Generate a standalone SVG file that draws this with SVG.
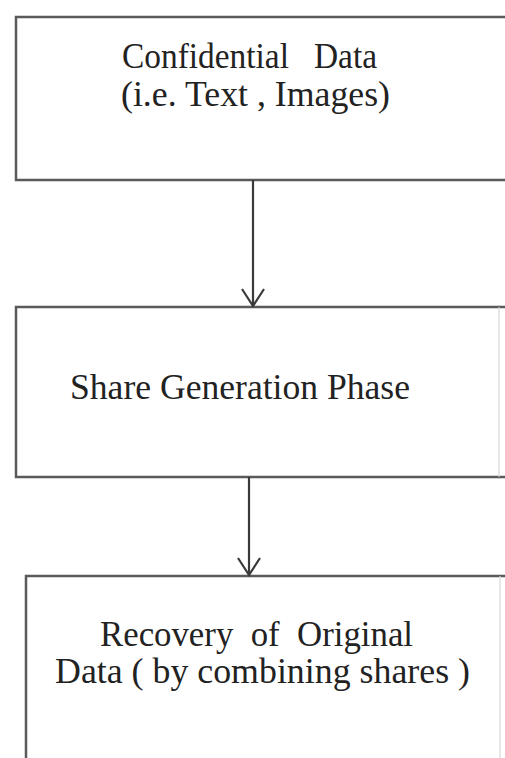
<svg xmlns="http://www.w3.org/2000/svg" width="505" height="758" viewBox="0 0 505 758">
<style>
.box{fill:#ffffff;stroke:#5a5a5a;stroke-width:2.5}
.faint{stroke:#d8d8d8;stroke-width:1.2;fill:none}
.lbl{font-family:"Liberation Serif","Times New Roman",serif;font-size:36px;fill:#222222}
.conn{stroke:#3a3a3a;stroke-width:2.2;fill:none}
</style>
<defs>
<marker id="arr" markerUnits="userSpaceOnUse" markerWidth="30" markerHeight="30" viewBox="-20 -15 24 30" refX="0" refY="0" orient="auto">
<path d="M-17,-11 L0,0 L-17,11" fill="none" stroke="#3a3a3a" stroke-width="2.2"/>
</marker>
</defs>
<rect width="505" height="758" fill="#ffffff"/>
<g id="node-confidential">
<path class="box" d="M515,17 H16 V180 H515"/>
<text class="lbl" x="122" y="68" textLength="255" lengthAdjust="spacingAndGlyphs" xml:space="preserve">Confidential   Data</text>
<text class="lbl" x="121" y="106" textLength="269" lengthAdjust="spacingAndGlyphs">(i.e. Text , Images)</text>
</g>
<g id="node-share">
<path class="box" d="M515,307 H16 V477 H515"/>
<line class="faint" x1="499" y1="307" x2="499" y2="477"/>
<text class="lbl" x="70" y="399" textLength="340" lengthAdjust="spacingAndGlyphs">Share Generation Phase</text>
</g>
<g id="node-recovery">
<path class="box" d="M515,576 H26 V770"/>
<line class="faint" x1="500" y1="576" x2="500" y2="758"/>
<text class="lbl" x="100" y="646" textLength="313" lengthAdjust="spacingAndGlyphs" xml:space="preserve">Recovery  of  Original</text>
<text class="lbl" x="55" y="683" textLength="415" lengthAdjust="spacingAndGlyphs">Data ( by combining shares )</text>
</g>
<g id="connectors">
<line class="conn" x1="253" y1="180" x2="253" y2="306" marker-end="url(#arr)"/>
<line class="conn" x1="249" y1="477" x2="249" y2="575" marker-end="url(#arr)"/>
</g>
</svg>
